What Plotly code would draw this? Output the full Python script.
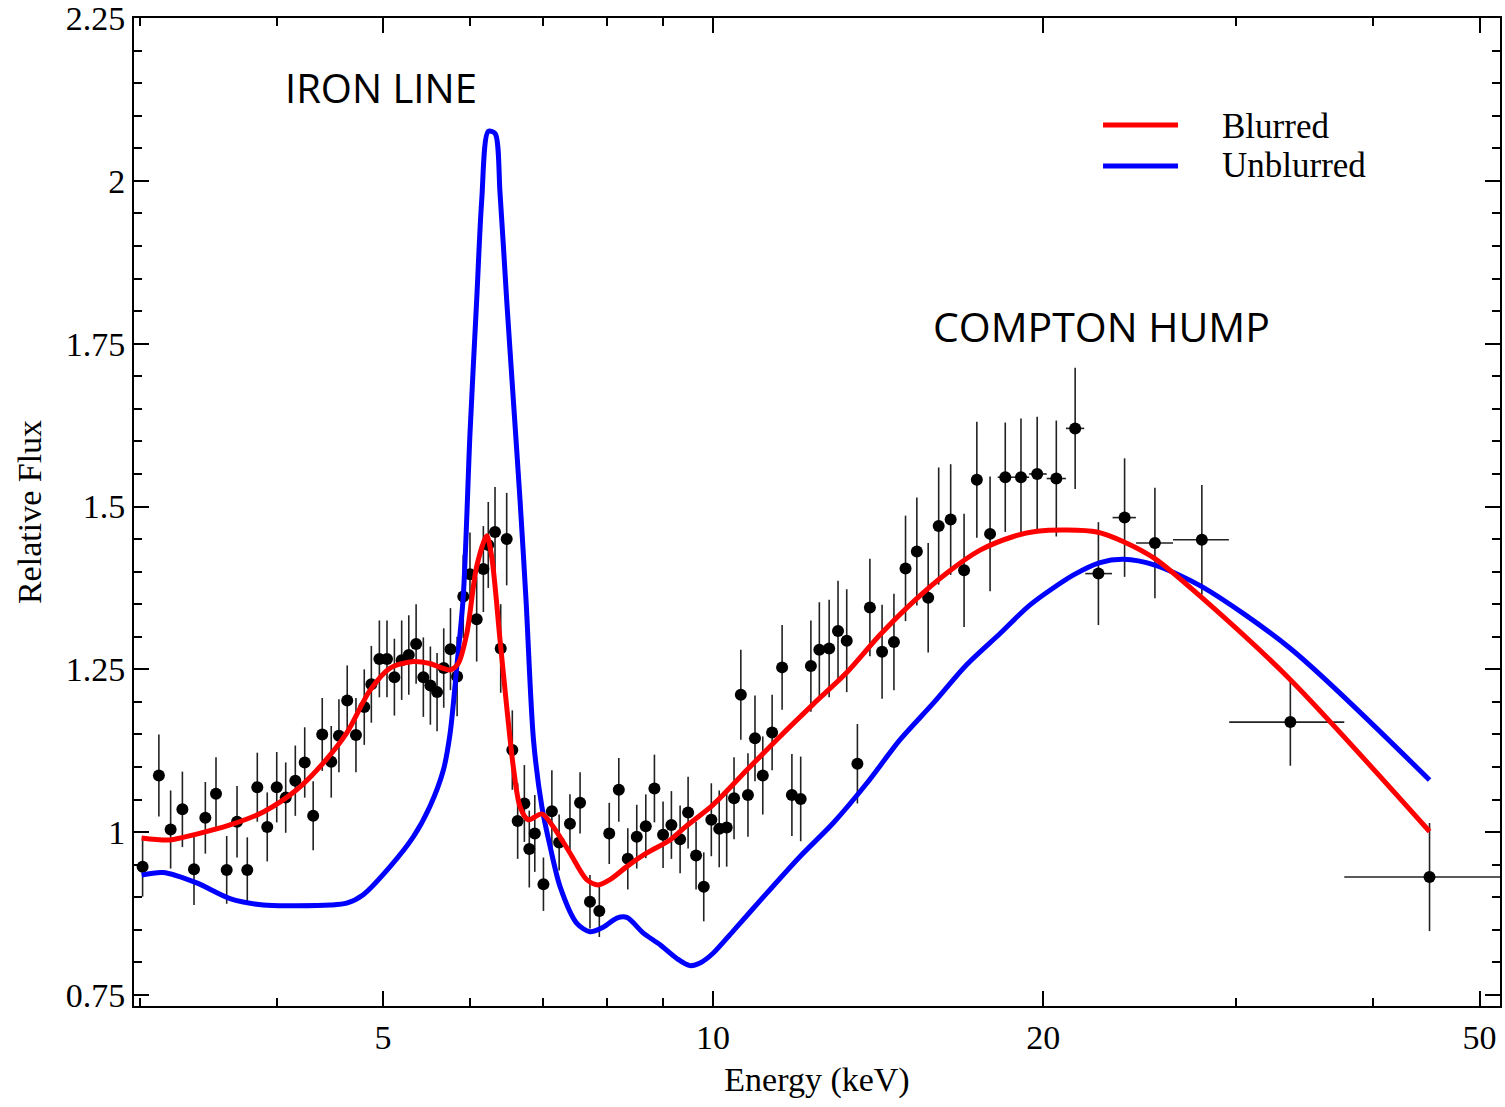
import math
import plotly.graph_objects as go

# ---------------- data ----------------
energy = [3.018, 3.123, 3.201, 3.281, 3.362, 3.443, 3.521, 3.601, 3.680, 3.760,
          3.840, 3.921, 4.000, 4.076, 4.159, 4.242, 4.318, 4.401, 4.485, 4.558,
          4.638, 4.724, 4.807, 4.879, 4.962, 5.042, 5.121, 5.200, 5.278, 5.360,
          5.442, 5.523, 5.601, 5.680, 5.761, 5.842,
          5.918, 6.002, 6.087, 6.173, 6.237, 6.326, 6.402, 6.483, 6.560, 6.634,
          6.728, 6.798, 6.877, 7.003, 7.128, 7.238, 7.404, 7.563, 7.722, 7.875,
          8.041, 8.204, 8.360, 8.519, 8.682, 8.841, 9.003, 9.162, 9.331, 9.489,
          9.649, 9.806, 9.963, 10.13, 10.29, 10.45, 10.60, 10.76, 10.92, 11.10,
          11.32, 11.56, 11.80, 12.02, 12.28, 12.50, 12.76, 13.00, 13.24, 13.54,
          13.90, 14.26, 14.62, 14.98, 15.34, 15.71, 16.06, 16.47, 16.94, 17.40,
          17.89, 18.47, 19.09, 19.75, 20.56, 21.39, 22.46, 23.73, 25.29, 27.91,
          33.61, 45.02]

flux = [0.947, 1.087, 1.004, 1.035, 0.943, 1.022, 1.059, 0.942, 1.016, 0.942,
        1.069, 1.008, 1.069, 1.053, 1.079, 1.107, 1.025, 1.150, 1.108, 1.148,
        1.202, 1.149, 1.192, 1.227, 1.266, 1.266, 1.238, 1.264, 1.272, 1.289,
        1.238, 1.225, 1.215, 1.252, 1.281, 1.239,
        1.362, 1.396, 1.327, 1.404, 1.441, 1.461, 1.282, 1.450, 1.126, 1.017,
        1.044, 0.974, 0.998, 0.920, 1.032, 0.984, 1.013, 1.045, 0.893, 0.879,
        0.998, 1.065, 0.959, 0.993, 1.009, 1.067, 0.996, 1.011, 0.989, 1.030,
        0.964, 0.916, 1.019, 1.005, 1.007, 1.052, 1.211, 1.057, 1.144, 1.087,
        1.153, 1.253, 1.057, 1.051, 1.255, 1.280, 1.282, 1.309, 1.294, 1.105,
        1.345, 1.277, 1.292, 1.405, 1.431, 1.360, 1.470, 1.480, 1.402, 1.541,
        1.458, 1.545, 1.545, 1.550, 1.543, 1.620, 1.397, 1.483, 1.444, 1.449,
        1.169, 0.931]

flux_err = [0.046, 0.063, 0.060, 0.058, 0.055, 0.055, 0.056, 0.052, 0.055, 0.050,
            0.053, 0.053, 0.054, 0.054, 0.054, 0.054, 0.053, 0.056, 0.055, 0.056,
            0.054, 0.057, 0.058, 0.059, 0.059, 0.059, 0.059, 0.061, 0.061, 0.061,
            0.061, 0.060, 0.060, 0.061, 0.063, 0.061,
            0.064, 0.064, 0.065, 0.066, 0.066, 0.069, 0.068, 0.071, 0.061, 0.058,
            0.059, 0.059, 0.059, 0.041, 0.063, 0.043, 0.045, 0.047, 0.041, 0.040,
            0.047, 0.049, 0.047, 0.049, 0.049, 0.052, 0.051, 0.052, 0.052, 0.055,
            0.052, 0.053, 0.056, 0.059, 0.060, 0.063, 0.069, 0.064, 0.066, 0.060,
            0.058, 0.065, 0.063, 0.065, 0.070, 0.073, 0.075, 0.077, 0.079, 0.061,
            0.075, 0.072, 0.074, 0.081, 0.083, 0.084, 0.090, 0.085, 0.087, 0.089,
            0.088, 0.084, 0.090, 0.088, 0.089, 0.093, 0.079, 0.091, 0.085, 0.084,
            0.067, 0.083]

# energy bin half-widths (only visible for the high-energy bins)
n_low = len(energy) - 11
e_err_minus = [0.0] * n_low + [0.29, 0.31, 0.33, 0.41, 0.41, 0.61, 0.59, 0.98, 1.64, 4.05, 7.38]
e_err_plus = [0.0] * n_low + [0.31, 0.33, 0.40, 0.42, 0.41, 0.65, 0.57, 0.98, 1.63, 4.03, 8.78]

blurred_E = [3.012, 3.196, 3.381, 3.626, 3.889, 4.171, 4.410, 4.632, 4.866, 5.075,
             5.330, 5.516, 5.757, 5.856, 5.962, 6.087, 6.217, 6.282, 6.393, 6.483,
             6.574, 6.667, 6.785, 6.980, 7.151, 7.404, 7.669, 7.857, 8.052, 8.343,
             8.700, 9.137, 9.463, 10.00, 10.73, 11.51, 12.35, 13.24, 14.20, 15.23,
             16.34, 17.52, 18.79, 19.74, 21.02, 22.39, 23.68, 25.29, 27.91, 33.61,
             45.02]
blurred_flux = [0.991, 0.988, 0.997, 1.011, 1.031, 1.065, 1.106, 1.152, 1.218, 1.252,
                1.262, 1.259, 1.249, 1.259, 1.305, 1.408, 1.455, 1.423, 1.295, 1.193,
                1.100, 1.039, 1.019, 1.028, 1.008, 0.968, 0.927, 0.919, 0.927, 0.947,
                0.968, 0.988, 1.010, 1.042, 1.095, 1.147, 1.197, 1.245, 1.303, 1.354,
                1.398, 1.433, 1.454, 1.462, 1.464, 1.461, 1.446, 1.420, 1.360, 1.234,
                1.001]

unblurred_E = [3.012, 3.151, 3.381, 3.626, 3.889, 4.171, 4.473, 4.632, 4.797, 5.075,
               5.330, 5.516, 5.675, 5.757, 5.838, 5.918, 6.002, 6.087, 6.152, 6.237,
               6.326, 6.393, 6.483, 6.574, 6.667, 6.752, 6.858, 6.980, 7.102, 7.253,
               7.512, 7.722, 7.939, 8.170, 8.343, 8.638, 8.947, 9.266, 9.528, 9.730,
               10.00, 10.43, 11.19, 12.01, 12.87, 13.81, 14.81, 15.88, 17.03, 18.27,
               19.46, 21.32, 22.54, 23.68, 25.29, 27.91, 33.61, 45.02]
unblurred_flux = [0.934, 0.938, 0.922, 0.898, 0.888, 0.887, 0.888, 0.891, 0.904, 0.947,
                  0.993, 1.039, 1.095, 1.152, 1.254, 1.362, 1.612, 1.817, 1.971, 2.076,
                  2.073, 1.981, 1.817, 1.664, 1.510, 1.356, 1.142, 1.039, 0.978, 0.916,
                  0.860, 0.847, 0.854, 0.868, 0.869, 0.845, 0.827, 0.806, 0.795, 0.799,
                  0.814, 0.848, 0.906, 0.963, 1.014, 1.075, 1.142, 1.198, 1.257, 1.305,
                  1.349, 1.395, 1.414, 1.419, 1.410, 1.377, 1.282, 1.080]

x_tickvals = [5, 10, 20, 50]
x_ticktext = ["5", "10", "20", "50"]
x_minor = [3, 4, 6, 7, 8, 9, 30, 40]
y_tickvals = [0.75, 1.0, 1.25, 1.5, 1.75, 2.0, 2.25]
y_ticktext = ["0.75", "1", "1.25", "1.5", "1.75", "2", "2.25"]
y_minor = [round(0.75 + 0.05 * i, 2) for i in range(31)]

series_names = ["Blurred", "Unblurred"]
series_colors = ["#ff0000", "#0000ff"]

# ---------------- figure ----------------
SERIF = "Liberation Serif, Times New Roman, serif"
SANS = "Open Sans, Noto Sans, sans-serif"

fig = go.Figure()

fig.add_trace(go.Scatter(
    x=energy, y=flux, mode="markers", name="Data",
    marker=dict(color="black", size=12),
    error_y=dict(type="data", array=flux_err, visible=True,
                 color="#222222", thickness=1.6, width=0),
    error_x=dict(type="data", array=e_err_plus, arrayminus=e_err_minus,
                 symmetric=False, visible=True,
                 color="#222222", thickness=1.6, width=0),
    showlegend=False,
))

fig.add_trace(go.Scatter(
    x=unblurred_E, y=unblurred_flux, mode="lines", name=series_names[1],
    line=dict(color=series_colors[1], width=5, shape="spline", smoothing=0.8),
    showlegend=False,
))
fig.add_trace(go.Scatter(
    x=blurred_E, y=blurred_flux, mode="lines", name=series_names[0],
    line=dict(color=series_colors[0], width=5, shape="spline", smoothing=0.8),
    showlegend=False,
))

# manual legend (long line samples as in the original)
legend_rows = [(0.8917, 0.8897), (0.8502, 0.8507)]
for (ly, ty), name, col in zip(legend_rows, series_names, series_colors):
    fig.add_shape(type="line", xref="paper", yref="paper",
                  x0=0.7094, x1=0.7643, y0=ly, y1=ly,
                  line=dict(color=col, width=5))
    fig.add_annotation(xref="paper", yref="paper", x=0.795, y=ty,
                       text=name, showarrow=False, xanchor="left", yanchor="middle",
                       font=dict(family=SERIF, size=35, color="black"))

fig.add_annotation(xref="paper", yref="paper", x=0.1808, y=0.9300,
                   text="IRON LINE", showarrow=False, xanchor="center", yanchor="middle",
                   font=dict(family=SANS, size=40, color="black"))
fig.add_annotation(xref="paper", yref="paper", x=0.7085, y=0.6880,
                   text="COMPTON HUMP", showarrow=False, xanchor="center", yanchor="middle",
                   font=dict(family=SANS, size=41, color="black"))

fig.update_layout(
    width=1505, height=1107,
    margin=dict(l=134, r=5, t=18, b=101),
    plot_bgcolor="white", paper_bgcolor="white",
    showlegend=False,
    font=dict(family=SERIF, size=34, color="black"),
)

fig.update_xaxes(
    type="log", range=[math.log10(2.964), math.log10(52.2)],
    automargin=False, ticklabeloverflow="allow",
    tickmode="array", tickvals=x_tickvals, ticktext=x_ticktext,
    ticks="inside", ticklen=15, tickwidth=1.5, tickcolor="black",
    showline=True, linecolor="black", linewidth=2, mirror="ticks",
    showgrid=False, zeroline=False,
    tickfont=dict(family=SERIF, size=34),
    minor=dict(tickmode="array", tickvals=x_minor, ticks="inside", ticklen=8,
               tickwidth=1.5, tickcolor="black", showgrid=False),
    title=dict(text="Energy (keV)", font=dict(family=SERIF, size=34), standoff=12),
)
fig.update_yaxes(
    range=[0.733, 2.2502],
    automargin=False, ticklabeloverflow="allow",
    tickmode="array", tickvals=y_tickvals, ticktext=y_ticktext,
    ticks="inside", ticklen=15, tickwidth=1.5, tickcolor="black",
    showline=True, linecolor="black", linewidth=2, mirror="ticks",
    showgrid=False, zeroline=False,
    tickfont=dict(family=SERIF, size=34),
    minor=dict(tickmode="array", tickvals=y_minor, ticks="inside", ticklen=8,
               tickwidth=1.5, tickcolor="black", showgrid=False),
    title=dict(text="Relative Flux", font=dict(family=SERIF, size=34), standoff=14),
)

# remove the default 8 px page margin so the figure fills the window exactly
fig.write_html("out.html", config={"displayModeBar": False},
               post_script="document.body.style.margin='0px';")
